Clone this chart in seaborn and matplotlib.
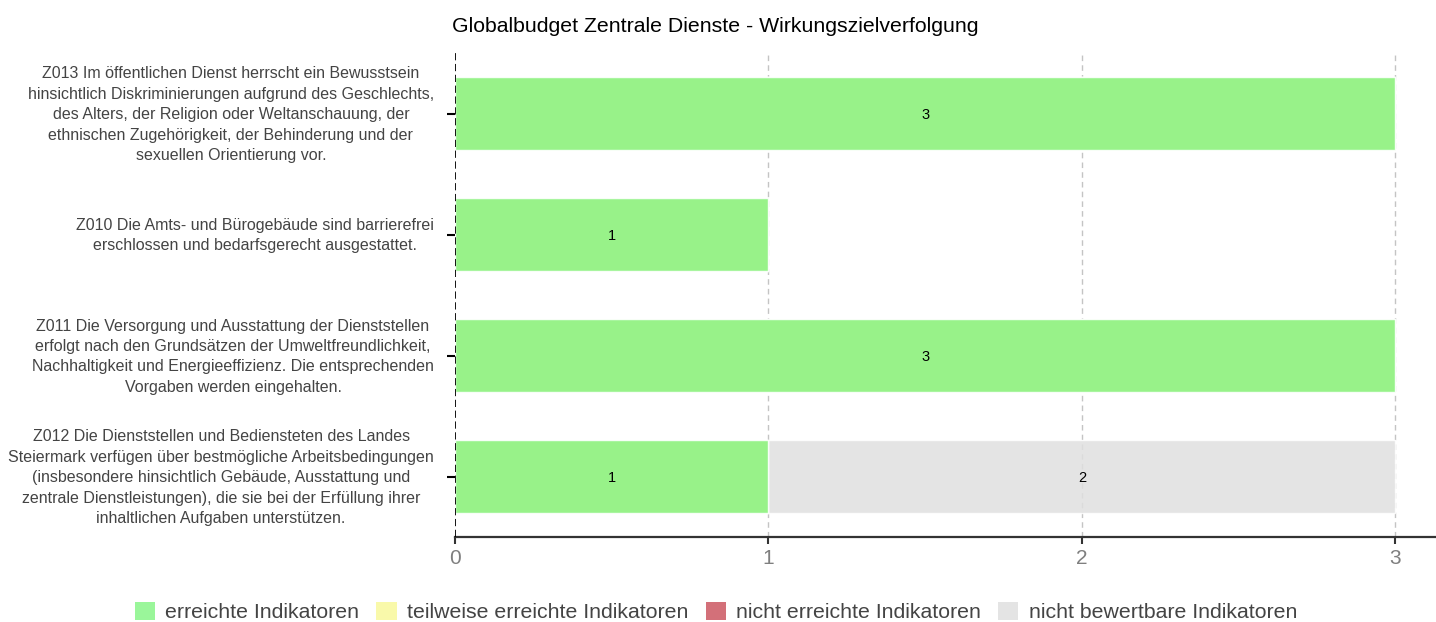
import numpy as np
import pandas as pd
import seaborn as sns
import matplotlib
matplotlib.use("Agg")
from matplotlib import pyplot as plt
from matplotlib.patches import Patch
from matplotlib.transforms import blended_transform_factory

# data (top to bottom)
ziele = [
    "Z013 Im öffentlichen Dienst herrscht ein Bewusstsein\nhinsichtlich Diskriminierungen aufgrund des Geschlechts,\ndes Alters, der Religion oder Weltanschauung, der\nethnischen Zugehörigkeit, der Behinderung und der\nsexuellen Orientierung vor.",
    "Z010 Die Amts- und Bürogebäude sind barrierefrei\nerschlossen und bedarfsgerecht ausgestattet.",
    "Z011 Die Versorgung und Ausstattung der Dienststellen\nerfolgt nach den Grundsätzen der Umweltfreundlichkeit,\nNachhaltigkeit und Energieeffizienz. Die entsprechenden\nVorgaben werden eingehalten.",
    "Z012 Die Dienststellen und Bediensteten des Landes\nSteiermark verfügen über bestmögliche Arbeitsbedingungen\n(insbesondere hinsichtlich Gebäude, Ausstattung und\nzentrale Dienstleistungen), die sie bei der Erfüllung ihrer\ninhaltlichen Aufgaben unterstützen.",
]
erreicht = [3, 1, 3, 1]
teilweise = [0, 0, 0, 0]
nicht_erreicht = [0, 0, 0, 0]
nicht_bewertbar = [0, 0, 0, 2]

serien = ["erreichte Indikatoren", "teilweise erreichte Indikatoren",
          "nicht erreichte Indikatoren", "nicht bewertbare Indikatoren"]
farben = ["#88F588", "#F9F99B", "#CC5762", "#E0E0E0"]
ticks = [0, 1, 2, 3]

sns.set_theme(style="white")
plt.rcParams["font.family"] = ["Liberation Sans", "DejaVu Sans"]

werte = np.array([erreicht, teilweise, nicht_erreicht, nicht_bewertbar], dtype=float)
kum = np.cumsum(werte, axis=0)

fig = plt.figure(figsize=(14.36, 6.22), dpi=100)
ax = fig.add_axes([455 / 1436, 85 / 622, 1 - 455 / 1436, (537 - 53) / 622])

# grid first, bars are slightly transparent like the original
for x in ticks[1:]:
    ax.axvline(x, color="#c4c4c4", ls=(0, (4, 3)), lw=1, zorder=1)

# stacked bars: draw cumulative totals from the back to the front
for i in range(len(serien) - 1, -1, -1):
    df = pd.DataFrame({"ziel": ziele, "wert": kum[i]})
    sns.barplot(data=df, x="wert", y="ziel", order=ziele, orient="h",
                color=farben[i], saturation=1, width=0.6, ax=ax,
                alpha=0.85, zorder=2)

# segment labels
for i in range(len(serien)):
    links = kum[i] - werte[i]
    for j, v in enumerate(werte[i]):
        if v > 0:
            ax.text(links[j] + v / 2, j + 0.01, f"{v:g}", ha="center", va="center",
                    fontsize=10.5, color="black", zorder=5)

ax.set_xlim(0, 3.13)
ax.set_ylim(len(ziele) - 0.5, -0.5)
ax.set_xticks(ticks)
ax.set_xticklabels([str(t) for t in ticks])
ax.set_xlabel("")
ax.set_ylabel("")
ax.set_yticks(range(len(ziele)))
ax.set_yticklabels([])

ax.axvline(0, color="black", ls=(0, (4, 2)), lw=1.3, zorder=6)

for s in ["top", "right", "left"]:
    ax.spines[s].set_visible(False)
ax.spines["bottom"].set_color("#333333")
ax.spines["bottom"].set_linewidth(1.6)

ax.tick_params(axis="x", bottom=True, length=5, width=1.5, color="#333333",
               labelsize=15, labelcolor="#7f7f7f", pad=4)
ax.tick_params(axis="y", left=True, length=6, width=1.5, color="black")

# goal labels: block right-aligned, lines centred
trans = blended_transform_factory(fig.transFigure, ax.transData)
for j, z in enumerate(ziele):
    ax.text(434 / 1436, j + 0.01, z, transform=trans, ha="right", va="center",
            multialignment="center", fontsize=11.5, linespacing=1.45,
            color="#444444", clip_on=False)

fig.text(452 / 1436, 1 - 27 / 622, "Globalbudget Zentrale Dienste - Wirkungszielverfolgung",
         ha="left", va="center", fontsize=15.3, color="black")

handles = [Patch(facecolor=c, edgecolor="none", alpha=0.85) for c in farben]
fig.legend(handles, serien, loc="center", bbox_to_anchor=(0.4986, 1 - 612 / 622),
           ncol=4, frameon=False, fontsize=15.3, handlelength=0.95, handleheight=0.95,
           handletextpad=0.5, columnspacing=0.8, labelcolor="#444444")

fig.savefig("out.png", dpi=100)
